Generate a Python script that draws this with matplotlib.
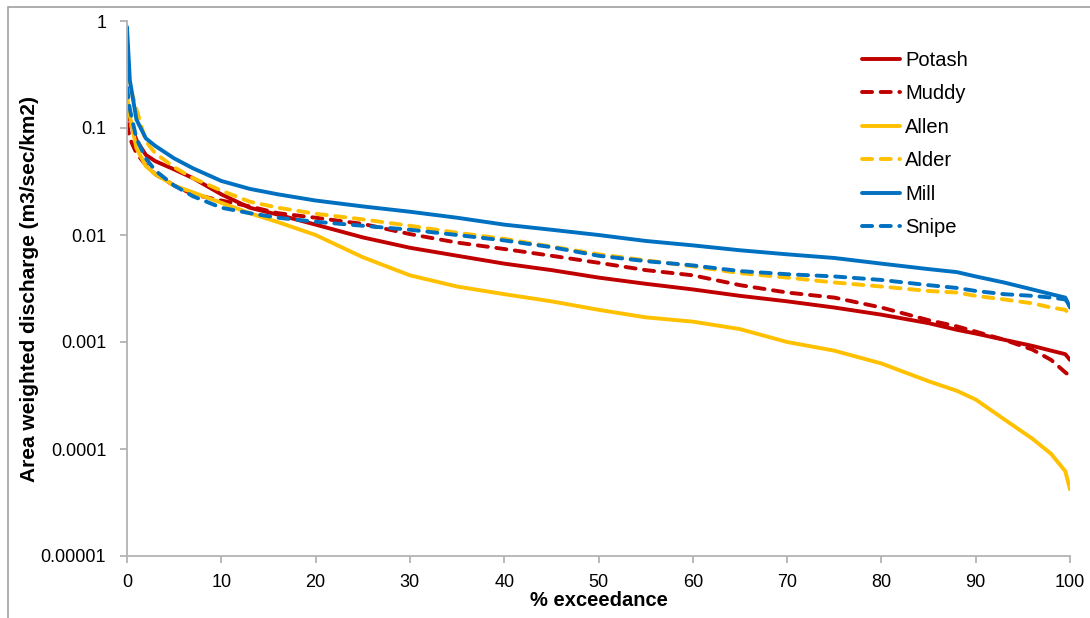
import matplotlib
matplotlib.use("Agg")
import matplotlib.pyplot as plt
from matplotlib.ticker import FixedLocator, FixedFormatter, NullLocator
from matplotlib.patches import Rectangle

plt.rcParams['font.family'] = ['Liberation Sans', 'DejaVu Sans']

x = [0, 0.3, 1, 2, 3, 5, 7, 10, 13, 16, 20, 25, 30, 35, 40, 45, 50, 55, 60,
     65, 70, 75, 80, 85, 88, 90, 93, 96, 98, 99.5, 100]

potash = [0.17, 0.12, 0.077, 0.056, 0.049, 0.041, 0.034, 0.024, 0.018, 0.0155,
          0.0125, 0.0095, 0.0076, 0.0064, 0.0054, 0.0047, 0.0040, 0.0035, 0.0031,
          0.0027, 0.0024, 0.0021, 0.0018, 0.0015, 0.0013, 0.0012, 0.00105,
          0.00092, 0.00083, 0.00077, 0.00068]
muddy = [0.11, 0.08, 0.058, 0.045, 0.037, 0.029, 0.024, 0.021, 0.0185, 0.016,
         0.0145, 0.0127, 0.0102, 0.0085, 0.0074, 0.0064, 0.0055, 0.0047, 0.0042,
         0.0034, 0.0029, 0.0026, 0.0021, 0.0016, 0.0014, 0.00125, 0.00105,
         0.00085, 0.00068, 0.00052, 0.00048]
allen = [0.2, 0.13, 0.065, 0.044, 0.037, 0.029, 0.025, 0.020, 0.016, 0.0132,
         0.0100, 0.0062, 0.0042, 0.0033, 0.0028, 0.0024, 0.0020, 0.0017, 0.00155,
         0.00132, 0.00100, 0.00083, 0.00063, 0.00043, 0.00035, 0.00029, 0.00019,
         0.000125, 0.00009, 0.000062, 0.000042]
alder = [0.33, 0.25, 0.15, 0.075, 0.058, 0.043, 0.034, 0.026, 0.0205, 0.018,
         0.0158, 0.014, 0.0122, 0.0105, 0.0092, 0.0078, 0.0066, 0.0058, 0.0051,
         0.0044, 0.0040, 0.0036, 0.0033, 0.0030, 0.0029, 0.0027, 0.0025,
         0.0023, 0.0021, 0.0020, 0.0018]
mill = [0.88, 0.28, 0.12, 0.08, 0.068, 0.052, 0.042, 0.032, 0.027, 0.024,
        0.021, 0.0185, 0.0165, 0.0145, 0.0125, 0.0112, 0.0100, 0.0088, 0.0080,
        0.0072, 0.0066, 0.0061, 0.0054, 0.0048, 0.0045, 0.0041, 0.0036,
        0.0031, 0.0028, 0.0026, 0.0021]
snipe = [0.24, 0.15, 0.08, 0.052, 0.040, 0.029, 0.023, 0.018, 0.016, 0.0145,
         0.0133, 0.0122, 0.0112, 0.0100, 0.0089, 0.0077, 0.0064, 0.0057, 0.0052,
         0.0046, 0.0043, 0.0041, 0.0038, 0.0034, 0.0032, 0.0030, 0.0028,
         0.0027, 0.0026, 0.0025, 0.0022]

names = ["Potash", "Muddy", "Allen", "Alder", "Mill", "Snipe"]
series = [potash, muddy, allen, alder, mill, snipe]
colors = ["#C00000", "#C00000", "#FFC000", "#FFC000", "#0070C0", "#0070C0"]
dashed = [False, True, False, True, False, True]

yticks = [1, 0.1, 0.01, 0.001, 0.0001, 0.00001]
ytick_labels = ["1", "0.1", "0.01", "0.001", "0.0001", "0.00001"]
xticks = [0, 10, 20, 30, 40, 50, 60, 70, 80, 90, 100]

fig = plt.figure(figsize=(10.9, 6.18), dpi=100)
ax = fig.add_axes([127/1090, 1-556/618, (1070-127)/1090, (556-21)/618])

lw = 2.8
for name, ys, c, d in zip(names, series, colors, dashed):
    if d:
        ax.plot(x, ys, color=c, lw=lw, linestyle=(0, (2.6, 2.2)),
                dash_capstyle='round', label=name)
    else:
        ax.plot(x, ys, color=c, lw=lw, solid_capstyle='round', label=name)

ax.set_yscale('log')
ax.set_ylim(0.00001, 1)
ax.set_xlim(0, 100)
ax.yaxis.set_major_locator(FixedLocator(yticks))
ax.yaxis.set_major_formatter(FixedFormatter(ytick_labels))
ax.yaxis.set_minor_locator(NullLocator())
ax.set_xticks(xticks)
ax.set_xticklabels([str(v) for v in xticks])

spine_c = "#B3B3B3"
for s in ['top', 'right']:
    ax.spines[s].set_visible(False)
for s in ['left', 'bottom']:
    ax.spines[s].set_color(spine_c)
    ax.spines[s].set_linewidth(1.3)
ax.tick_params(axis='both', colors=spine_c, labelcolor='black', labelsize=13,
               length=5, width=1.3, direction='out')
ax.tick_params(axis='x', pad=8)
ax.tick_params(axis='y', pad=10)

ax.set_xlabel("% exceedance", fontsize=14.5, fontweight='bold', labelpad=0)
ax.set_ylabel("Area weighted discharge (m3/sec/km2)", fontsize=15,
              fontweight='bold', labelpad=1)

leg = ax.legend(loc='upper left', bbox_to_anchor=(0.76, 0.978), frameon=False,
                fontsize=14.5, handlelength=1.9, handletextpad=0.25,
                labelspacing=0.72)

fig.patches.append(Rectangle((8/1090, -0.1), 1.2, 1-7/618+0.1,
                             transform=fig.transFigure, fill=False,
                             edgecolor="#A0A0A0", lw=1.2))

fig.savefig("out.png", dpi=100)
